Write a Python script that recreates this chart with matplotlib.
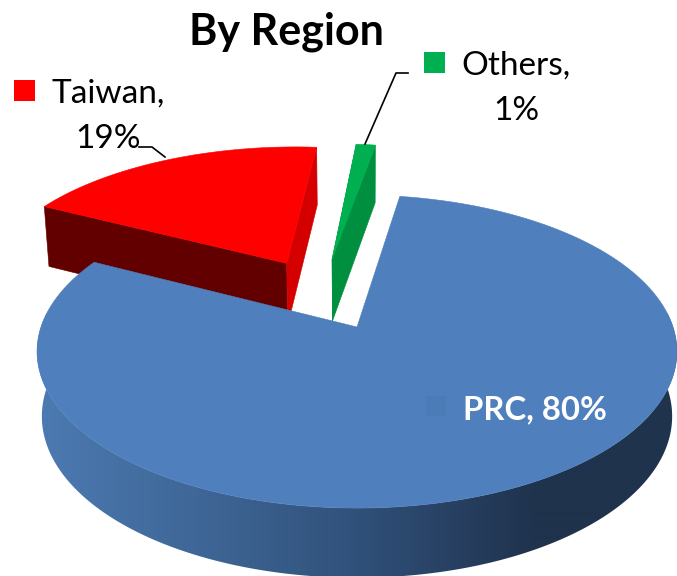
import numpy as np
import matplotlib
matplotlib.use("Agg")
import matplotlib.pyplot as plt
from matplotlib.colors import LinearSegmentedColormap
from matplotlib.patches import Polygon, Rectangle

categories = ["PRC", "Taiwan", "Others"]
slice_values = [80.0, 18.8, 1.2]
share_labels = ["80%", "19%", "1%"]
title_text = "By Region"

colors_top = ["#4F7FBC", "#FF0000", "#00B050"]
color_left_cut = {"Taiwan": "#620000", "Others": "#008F3F"}
color_right_cut = {"Taiwan": "#D40000", "Others": "#008F3F"}

START = 9.0
EXPLODE = 0.253
X0, Y0 = 357.0, 327.0
W, H, K = 316.0, 152.7, 0.1566
DEPTH = 64.0
DEPTH_P = 0.5
INSET = 0.985


def top_pt(u, v):
    w = 1 + K * v
    return X0 + W * u / w, Y0 - H * v / w


def bottom_pt(u, v):
    x, y = top_pt(u, v)
    s = (1 / (1 + K * v)) ** DEPTH_P
    return X0 + (x - X0) * INSET, y + DEPTH * s


def direction(a):
    r = np.deg2rad(a)
    return np.sin(r), np.cos(r)


fig = plt.figure(figsize=(6.77, 5.76), dpi=100, facecolor="white")
ax = fig.add_axes([0, 0, 1, 1])
ax.axis("off")

edges = START + np.cumsum([0] + [s / sum(slice_values) * 360 for s in slice_values])
mids = (edges[:-1] + edges[1:]) / 2
dir_ref = direction(mids[0])


def wedge(i):
    d = direction(mids[i])
    au, av = EXPLODE * (d[0] - dir_ref[0]), EXPLODE * (d[1] - dir_ref[1])
    th = np.linspace(edges[i], edges[i + 1], max(6, int((edges[i + 1] - edges[i]) * 3)))
    ru = au + np.sin(np.deg2rad(th))
    rv = av + np.cos(np.deg2rad(th))
    return (au, av), ru, rv


def cut_face(apex, ru, rv, color, z):
    pts = [top_pt(*apex), top_pt(ru, rv), bottom_pt(ru, rv), bottom_pt(*apex)]
    ax.add_patch(Polygon(pts, closed=True, fc=color, ec=color, lw=0.4, zorder=z))


def top_face(apex, ru, rv, color, z):
    pts = [top_pt(*apex)] + [top_pt(a, b) for a, b in zip(ru, rv)]
    ax.add_patch(Polygon(pts, closed=True, fc=color, ec=color, lw=0.4, zorder=z))


# Taiwan and Others sit behind the PRC slice
for i, z in ((1, 2), (2, 3)):
    apex, ru, rv = wedge(i)
    name = categories[i]
    cut_face(apex, ru[0], rv[0], color_left_cut[name], z)
    cut_face(apex, ru[-1], rv[-1], color_right_cut[name], z + 0.1)
    top_face(apex, ru, rv, colors_top[i], z + 0.2)

# PRC slice: front rim with a left-to-right gradient
apex, ru, rv = wedge(0)
rim_cmap = LinearSegmentedColormap.from_list(
    "rim",
    [(0.0, "#4C7AB2"), (0.25, "#3F6797"), (0.50, "#30517A"),
     (0.68, "#263D5E"), (0.78, "#1F334D"), (1.0, "#1F334D")],
)
front = rv < 0.1
rim_outline = [top_pt(a, b) for a, b in zip(ru[front], rv[front])] + \
              [bottom_pt(a, b) for a, b in zip(ru[front][::-1], rv[front][::-1])]
rim_patch = Polygon(rim_outline, closed=True, fc="none", ec="none", zorder=5)
ax.add_patch(rim_patch)
gradient = ax.imshow(np.linspace(0, 1, 641)[None, :], cmap=rim_cmap, extent=(36, 677, 576, 300),
                     aspect="auto", interpolation="bilinear", zorder=5)
gradient.set_clip_path(rim_patch)
top_face(apex, ru, rv, colors_top[0], 6)

ax.set_xlim(0, 677)
ax.set_ylim(576, 0)

# legend keys and data labels
ax.add_patch(Rectangle((14, 80), 21, 21, fc=colors_top[1], ec="none", zorder=8))
ax.add_patch(Rectangle((424, 52), 21, 21, fc=colors_top[2], ec="none", zorder=8))
ax.add_patch(Rectangle((426, 396), 20, 20, fc="#4C7CB8", ec="none", zorder=8))

FONT = "Lato"
ax.text(286, 45, title_text, ha="center", va="baseline", fontsize=31, fontweight="bold",
        family=FONT, color="black", zorder=9)
ax.text(108, 103, f"{categories[1]},", ha="center", va="baseline", fontsize=24,
        family=FONT, color="black", zorder=9)
ax.text(108, 148, share_labels[1], ha="center", va="baseline", fontsize=24,
        family=FONT, color="black", zorder=9)
ax.text(516, 75, f"{categories[2]},", ha="center", va="baseline", fontsize=24,
        family=FONT, color="black", zorder=9)
ax.text(516, 120, share_labels[2], ha="center", va="baseline", fontsize=24,
        family=FONT, color="black", zorder=9)
ax.text(535, 419, f"{categories[0]}, {share_labels[0]}", ha="center", va="baseline", fontsize=23.7,
        fontweight="bold", family=FONT, color="white", zorder=9)

ax.plot([139, 152, 165], [147, 147, 157], color="black", lw=1.2, zorder=7)
ax.plot([365, 396, 408], [144, 73, 73], color="black", lw=1.2, zorder=7)

fig.savefig("out.png", dpi=100, facecolor="white")
